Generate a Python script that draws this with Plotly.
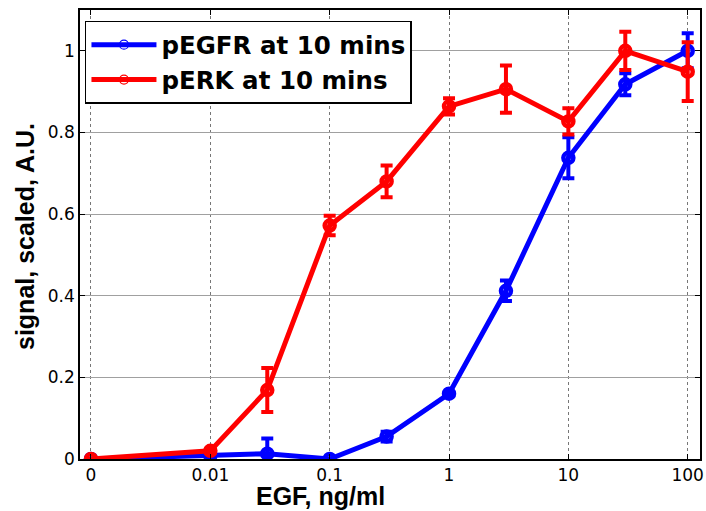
import plotly.graph_objects as go

# EGF dose (ng/ml); the untreated "0" dose sits one decade left of 0.01 on the log axis
dose = [0, 0.01, 0.03, 0.1, 0.3, 1, 3, 10, 30, 100]
zero_position = 0.001
x_pos = [zero_position if d == 0 else d for d in dose]

pegfr = [0.0, 0.008, 0.013, 0.0, 0.055, 0.16, 0.412, 0.738, 0.918, 1.0]
pegfr_err = [0.0, 0.004, 0.037, 0.0, 0.012, 0.004, 0.025, 0.05, 0.027, 0.043]

perk = [0.0, 0.02, 0.169, 0.572, 0.68, 0.864, 0.906, 0.827, 1.0, 0.949]
perk_err = [0.0, 0.005, 0.054, 0.024, 0.039, 0.02, 0.058, 0.032, 0.047, 0.072]

xtick_vals = [0.001, 0.01, 0.1, 1, 10, 100]
xtick_text = ["0", "0.01", "0.1", "1", "10", "100"]
ytick_vals = [0, 0.2, 0.4, 0.6, 0.8, 1.0]
ytick_text = ["0", "0.2", "0.4", "0.6", "0.8", "1"]

BLUE = "#0000ff"
RED = "#ff0000"

fig = go.Figure()


def add_series(y, err, color, name):
    fig.add_trace(go.Scatter(
        x=x_pos, y=y, mode="lines+markers", showlegend=False,
        line=dict(color=color, width=5),
        marker=dict(symbol="circle-open", size=10, color=color,
                    line=dict(color=color, width=4.5)),
        error_y=dict(type="data", array=err, visible=True, color=color,
                     thickness=4, width=6),
    ))
    # legend entry: thick line with a thin open circle
    fig.add_trace(go.Scatter(
        x=[None], y=[None], mode="lines+markers", name=name,
        line=dict(color=color, width=5),
        marker=dict(symbol="circle-open", size=9, color=color,
                    line=dict(color=color, width=1.2)),
    ))


add_series(pegfr, pegfr_err, BLUE, "pEGFR at 10 mins")
add_series(perk, perk_err, RED, "pERK at 10 mins")

tick_font = dict(family="DejaVu Sans", size=17, color="black")
title_font = dict(family="Liberation Sans", size=25, color="black", weight="bold")

fig.update_layout(
    width=706, height=511,
    margin=dict(l=80, r=6, t=10, b=52, autoexpand=False),
    paper_bgcolor="white", plot_bgcolor="white",
    legend=dict(
        x=0.008, y=0.976, xanchor="left", yanchor="top",
        bgcolor="white", bordercolor="black", borderwidth=1.5,
        font=dict(family="DejaVu Sans", size=24.5, color="black", weight="bold"),
        itemwidth=65, tracegroupgap=0,
    ),
    annotations=[
        dict(text="EGF, ng/ml", xref="paper", yref="paper",
             x=(320 - 80) / 620, y=-(496 - 459) / 449,
             xanchor="center", yanchor="middle", showarrow=False, font=title_font),
        dict(text="signal, scaled, A.U.", xref="paper", yref="paper",
             x=-(80 - 25) / 620, y=(459 - 237) / 449, textangle=-90,
             xanchor="center", yanchor="middle", showarrow=False, font=title_font),
    ],
)

fig.update_xaxes(
    type="log", range=[-3.092, 2.103], automargin=False,
    tickvals=xtick_vals, ticktext=xtick_text, tickfont=tick_font,
    ticks="inside", ticklen=5, tickwidth=1, tickcolor="black",
    showline=True, linecolor="black", linewidth=1.5, mirror="allticks",
    showgrid=True, gridcolor="#777777", gridwidth=1, griddash="dot",
    zeroline=False,
)
fig.update_yaxes(
    range=[0, 1.1], automargin=False,
    tickvals=ytick_vals, ticktext=ytick_text, tickfont=tick_font,
    ticks="inside", ticklen=5, tickwidth=1, tickcolor="black",
    showline=True, linecolor="black", linewidth=1.5, mirror="allticks",
    showgrid=True, gridcolor="#a0a0a0", gridwidth=1,
    zeroline=False,
)

fig.write_html("out.html")
